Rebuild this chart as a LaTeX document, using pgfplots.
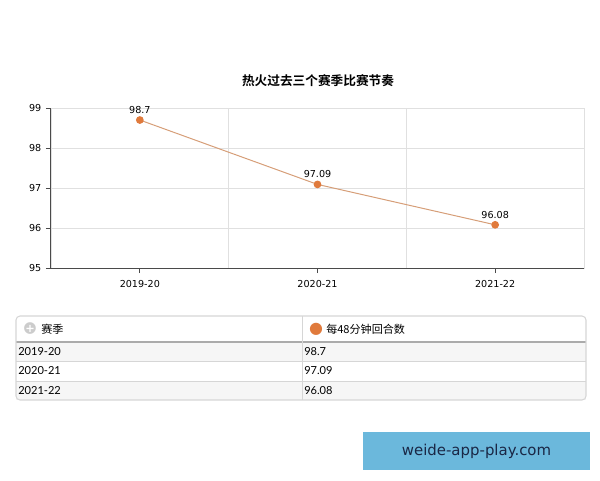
\documentclass[border=0pt]{standalone}
\usepackage{fontspec}
\setmainfont{DejaVu Sans}
\newfontfamily\cjk{Noto Sans CJK SC}
\newfontfamily\cjkb{Noto Sans CJK SC Bold}
\newfontfamily\lato{Lato}
\usepackage{pgfplots}
\pgfplotsset{compat=1.18}
\definecolor{lineTan}{HTML}{D69E78}
\definecolor{dotOrange}{HTML}{E07A3C}
\definecolor{gridGray}{HTML}{E0E0E0}
\definecolor{axisDark}{HTML}{4A4A4A}
\definecolor{tblBorder}{HTML}{D6D6D6}
\definecolor{rowShade}{HTML}{F6F6F6}
\definecolor{wmBlue}{HTML}{6BB8DC}
\definecolor{wmText}{HTML}{1A2745}

\begin{document}
\begin{tikzpicture}
\path[use as bounding box] (0,0) rectangle (450pt,-360pt);
\node[font=\cjkb\fontsize{9.5}{11}\selectfont] at (238.5pt,-60.75pt) {热火过去三个赛季比赛节奏};

\begin{axis}[
  at={(38.25pt,-201pt)}, anchor=south west,
  scale only axis, width=399.75pt, height=120pt,
  xmin=-0.5, xmax=2.5, ymin=95, ymax=99,
  xtick={0,1,2}, xticklabels={2019-20,2020-21,2021-22},
  ytick={95,96,97,98,99},
  minor xtick={0.5,1.5}, xminorgrids, ymajorgrids,
  grid style={gridGray, line width=0.6pt},
  minor grid style={gridGray, line width=0.6pt},
  axis line style={gridGray, line width=0.6pt},
  tick align=outside, xtick pos=bottom, ytick pos=left,
  major tick length=3.75pt, minor tick length=0pt,
  tick style={axisDark, line width=0.6pt},
  ticklabel style={font=\fontsize{7.2}{8}\selectfont, text=black},
  xticklabel style={yshift=-2pt},
  /pgf/number format/assume math mode=true,
  clip=false,
]
\addplot[lineTan, line width=0.75pt, mark=*, mark size=2.5pt,
  mark options={fill=dotOrange, draw=dotOrange},
  nodes near coords, point meta=explicit symbolic,
  nodes near coords style={font=\fontsize{7.2}{8}\selectfont, text=black, anchor=south, yshift=1pt}]
  coordinates {(0,98.7)[98.7] (1,97.09)[97.09] (2,96.08)[96.08]};
\draw[axisDark, line width=0.75pt] (rel axis cs:0,1) -- (rel axis cs:0,0) -- (rel axis cs:1,0);
\end{axis}

\begin{scope}[x=0.75pt, y=-0.75pt]
  % table
  \fill[rowShade] (16,342) rectangle (586,361);
  \fill[rowShade] (16,381) rectangle (586,400);
  \draw[tblBorder, line width=0.6pt] (16,361) -- (586,361) (16,381) -- (586,381);
  \draw[tblBorder!80!black, line width=0.8pt] (16,342) -- (586,342);
  \draw[tblBorder, line width=0.6pt] (302,316) -- (302,400);
  \draw[tblBorder, line width=0.8pt, rounded corners=3] (16,316) rectangle (586,400);
  \node[text=gray!40, font=\fontsize{11.5}{11.5}\selectfont, inner sep=0pt] at (30,329) {●};
  \node[text=white, font=\bfseries\fontsize{8.5}{8.5}\selectfont, inner sep=0pt] at (30,329) {+};
  \node[anchor=west, inner sep=0pt, font=\cjk\fontsize{8.3}{10}\selectfont] at (41,329) {赛季};
  \node[text=dotOrange, font=\fontsize{12}{12}\selectfont, inner sep=0pt] at (316,329) {●};
  \node[anchor=west, inner sep=0pt, font=\cjk\fontsize{8.3}{10}\selectfont] at (326,329) {每48分钟回合数};
  \foreach \yy/\s/\v in {351.5/2019-20/98.7, 371/2020-21/97.09, 390.5/2021-22/96.08} {
    \node[anchor=west, inner sep=0pt, font=\lato\fontsize{8.3}{10}\selectfont] at (18,\yy) {\s};
    \node[anchor=west, inner sep=0pt, font=\lato\fontsize{8.3}{10}\selectfont] at (304,\yy) {\v};
  }
  % watermark
  \fill[wmBlue] (363,432) rectangle (590,470);
  \node[text=wmText, font=\fontsize{11.2}{12}\selectfont] at (476.5,451) {weide-app-play.com};
\end{scope}
\end{tikzpicture}
\end{document}
